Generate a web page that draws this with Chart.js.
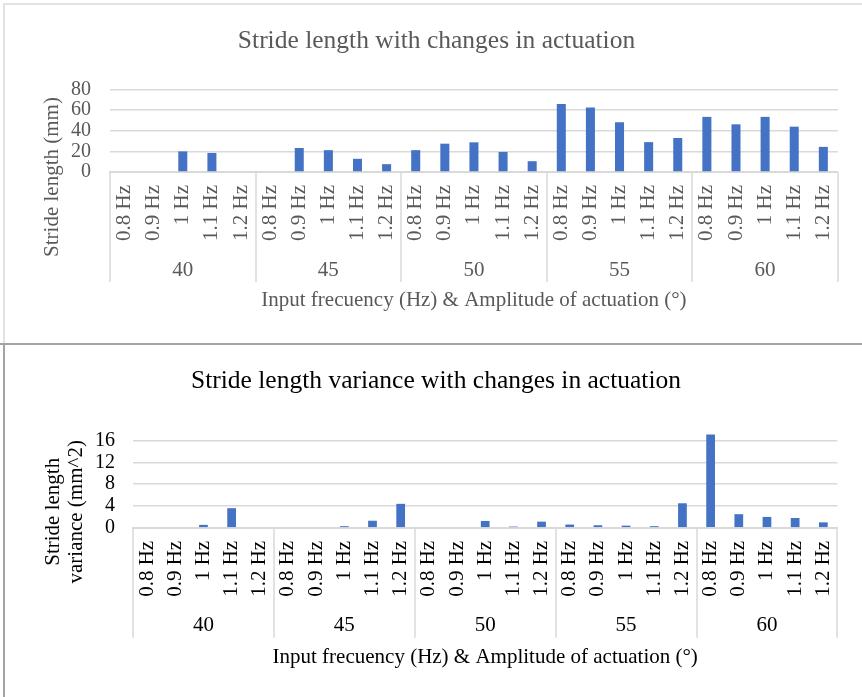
<!DOCTYPE html>
<html>
<head>
<meta charset="utf-8">
<title>Stride length charts</title>
<script src="https://cdn.jsdelivr.net/npm/chart.js@4.4.1/dist/chart.umd.min.js"></script>
<style>
  body { margin: 0; background: #fff; }
  #page { position: relative; width: 862px; height: 697px; overflow: hidden; }
  canvas { position: absolute; left: 0; }
  .line { position: absolute; }
</style>
</head>
<body>
<div id="page">
  <canvas id="lengthChart" width="862" height="344" style="top:0"></canvas>
  <canvas id="varianceChart" width="862" height="352" style="top:345px"></canvas>
  <div class="line" style="left:3px;top:3px;width:859px;height:2px;background:#e2e2e2"></div>
  <div class="line" style="left:3px;top:3px;width:2px;height:341px;background:#e2e2e2"></div>
  <div class="line" style="left:0;top:343px;width:862px;height:2px;background:#a3a3a3"></div>
  <div class="line" style="left:3px;top:344px;width:2px;height:353px;background:#a3a3a3"></div>
</div>
<script>
// amplitude groups (degrees) and frequencies inside each group
const groups = ["40", "45", "50", "55", "60"];
const freqs = ["0.8 Hz", "0.9 Hz", "1 Hz", "1.1 Hz", "1.2 Hz"];

// stride length (mm), 5 values per amplitude group
const strideLength = [
  0, 0, 20, 18.5, 0,
  0, 23.3, 21.2, 12.8, 7.6,
  21.2, 27.5, 28.8, 19.5, 10.5,
  66, 62.6, 48.3, 29, 33,
  53.5, 46.3, 53.5, 44, 24.4
];

// stride length variance (mm^2)
const strideVariance = [
  0, 0, 0.54, 3.6, 0,
  0, 0, 0.3, 1.3, 4.4,
  0, 0, 1.26, 0.23, 1.13,
  0.6, 0.47, 0.4, 0.3, 4.5,
  17.1, 2.5, 2.0, 1.8, 1.0
];

const lengthTicks = [0, 20, 40, 60, 80];
const varianceTicks = [0, 4, 8, 12, 16];

const labels = groups.flatMap(() => freqs);
const SERIF = "'Liberation Serif', 'Times New Roman', serif";
const GRID = "#d9d9d9";

// second level of the category axis (group separators + amplitude labels)
// and the value axis title, which Excel centres lower than the plot area
const groupAxis = {
  id: "groupAxis",
  afterDraw(chart, args, opts) {
    const x = chart.scales.x;
    const y = chart.scales.y;
    const ctx = chart.ctx;
    const n = freqs.length;
    ctx.save();
    ctx.strokeStyle = GRID;
    ctx.lineWidth = 1.5;
    for (let g = 0; g <= groups.length; g++) {
      const px = Math.round(x.getPixelForValue(g * n - 0.5));
      ctx.beginPath();
      ctx.moveTo(px, x.top);
      ctx.lineTo(px, x.top + opts.lineDepth);
      ctx.stroke();
    }
    ctx.fillStyle = opts.color;
    ctx.font = "21px " + SERIF;
    ctx.textAlign = "center";
    ctx.textBaseline = "middle";
    groups.forEach((g, i) => {
      ctx.fillText(g, x.getPixelForValue(i * n + (n - 1) / 2), x.top + opts.labelDepth);
    });

    const lines = Array.isArray(opts.yTitle) ? opts.yTitle : [opts.yTitle];
    ctx.translate(y.left + opts.yTitleX, chart.chartArea.bottom + opts.yTitleDy);
    ctx.rotate(-Math.PI / 2);
    lines.forEach((l, i) => ctx.fillText(l, 0, (i - (lines.length - 1) / 2) * 23));
    ctx.restore();
  }
};

function makeChart(id, cfg) {
  return new Chart(document.getElementById(id), {
    type: "bar",
    data: {
      labels: labels,
      datasets: [{
        data: cfg.values,
        backgroundColor: "#4472c4",
        barPercentage: 0.31,
        categoryPercentage: 1,
        clip: false
      }]
    },
    plugins: [groupAxis],
    options: {
      responsive: false,
      animation: false,
      layout: { padding: { left: 34, right: cfg.rightPad, top: 0, bottom: 0 } },
      plugins: {
        legend: { display: false },
        tooltip: { enabled: false },
        title: {
          display: true,
          text: cfg.title,
          color: cfg.color,
          font: { family: SERIF, size: 25.5, weight: "normal" },
          padding: cfg.titlePad
        },
        groupAxis: {
          color: cfg.color,
          lineDepth: 110,
          labelDepth: 98,
          yTitle: cfg.yTitle,
          yTitleX: cfg.yTitleX,
          yTitleDy: cfg.yTitleDy
        }
      },
      scales: {
        x: {
          grid: { display: false, drawTicks: false },
          border: { display: true, color: GRID, width: 2 },
          ticks: {
            color: cfg.color,
            font: { family: SERIF, size: 21 },
            minRotation: 90,
            maxRotation: 90,
            autoSkip: false,
            padding: 13
          },
          title: {
            display: true,
            text: "Input frecuency (Hz) & Amplitude of actuation (°)",
            color: cfg.color,
            font: { family: SERIF, size: 21 },
            padding: cfg.xTitlePad
          }
        },
        y: {
          min: cfg.ticks[0],
          max: cfg.ticks[cfg.ticks.length - 1],
          afterBuildTicks: s => { s.ticks = cfg.ticks.map(v => ({ value: v })); },
          afterFit: s => { s.width = cfg.yWidth; },
          grid: { color: GRID, lineWidth: 1.5, drawTicks: false },
          border: { display: false },
          ticks: {
            color: cfg.color,
            font: { family: SERIF, size: 20 },
            autoSkip: false,
            padding: cfg.yTickPad
          }
        }
      }
    }
  });
}

makeChart("lengthChart", {
  values: strideLength,
  ticks: lengthTicks,
  title: "Stride length with changes in actuation",
  yTitle: "Stride length (mm)",
  color: "#595959",
  rightPad: 23,
  yWidth: 76,
  yTitleX: 18,
  yTitleDy: 5,
  titlePad: { top: 26, bottom: 33 },
  xTitlePad: { top: 34, bottom: 31 },
  yTickPad: 19
});

makeChart("varianceChart", {
  values: strideVariance,
  ticks: varianceTicks,
  title: "Stride length variance with changes in actuation",
  yTitle: ["Stride length", "variance (mm^2)"],
  color: "#000000",
  rightPad: 24,
  yWidth: 99,
  yTitleX: 30.5,
  yTitleDy: -16,
  titlePad: { top: 21, bottom: 44 },
  xTitlePad: { top: 35, bottom: 27 },
  yTickPad: 18
});
</script>
</body>
</html>
